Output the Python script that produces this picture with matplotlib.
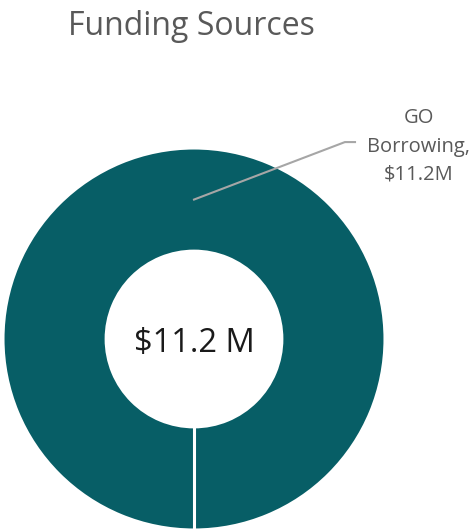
import numpy as np
import matplotlib
matplotlib.use("Agg")
import matplotlib.pyplot as plt

# funding breakdown ($M)
sources = ["GO Borrowing"]
amounts = [11.2]
colors = ["#075E66"]
title = "Funding Sources"

plt.rcParams["font.family"] = ["Open Sans", "DejaVu Sans"]

W, H = 469, 532
fig = plt.figure(figsize=(W / 100, H / 100), dpi=100)

# donut centre / radius in pixels
cx, cy, r = 194, 339, 191
ax = fig.add_axes([(cx - r) / W, (H - cy - r) / H, 2 * r / W, 2 * r / H])

hole = 0.46
wedges, _ = ax.pie(amounts, colors=colors, startangle=270, counterclock=True,
                   radius=1.0, wedgeprops=dict(width=1 - hole, edgecolor="white",
                                               linewidth=2.2))
ax.set_xlim(-1, 1)
ax.set_ylim(-1, 1)
ax.axis("off")

# slice border lines
for w in wedges:
    a = np.deg2rad(w.theta1)
    ax.plot([hole * np.cos(a), 1.01 * np.cos(a)], [hole * np.sin(a), 1.01 * np.sin(a)],
            color="white", lw=2.2, solid_capstyle="butt")

# data label with leader line, anchored mid-ring at the slice's mid-angle
for w, name, val in zip(wedges, sources, amounts):
    ang = np.deg2rad((w.theta1 + w.theta2) / 2)
    rm = (1 + hole) / 2
    x0, y0 = rm * np.cos(ang), rm * np.sin(ang)
    elbow = (0.79, 1.031)
    end = (0.843, 1.031)
    ax.plot([x0, elbow[0], end[0]], [y0, elbow[1], end[1]], color="#A6A6A6",
            lw=1.5, clip_on=False)
    ax.text(1.178, (cy - 180) / r, f"GO\n{name.split()[1]},\n${val:.1f}M",
            ha="center", va="baseline", fontsize=14.5, color="#595959",
            linespacing=1.55, clip_on=False)

total = sum(amounts)
ax.text(0, (cy - 352) / r, f"${total:.1f} M", ha="center", va="baseline",
        fontsize=23.5, color="#1a1a1a")

fig.text(68 / W, 1 - 35 / H, title, ha="left", va="baseline", fontsize=23,
         color="#595959")

fig.savefig("out.png", dpi=100)
